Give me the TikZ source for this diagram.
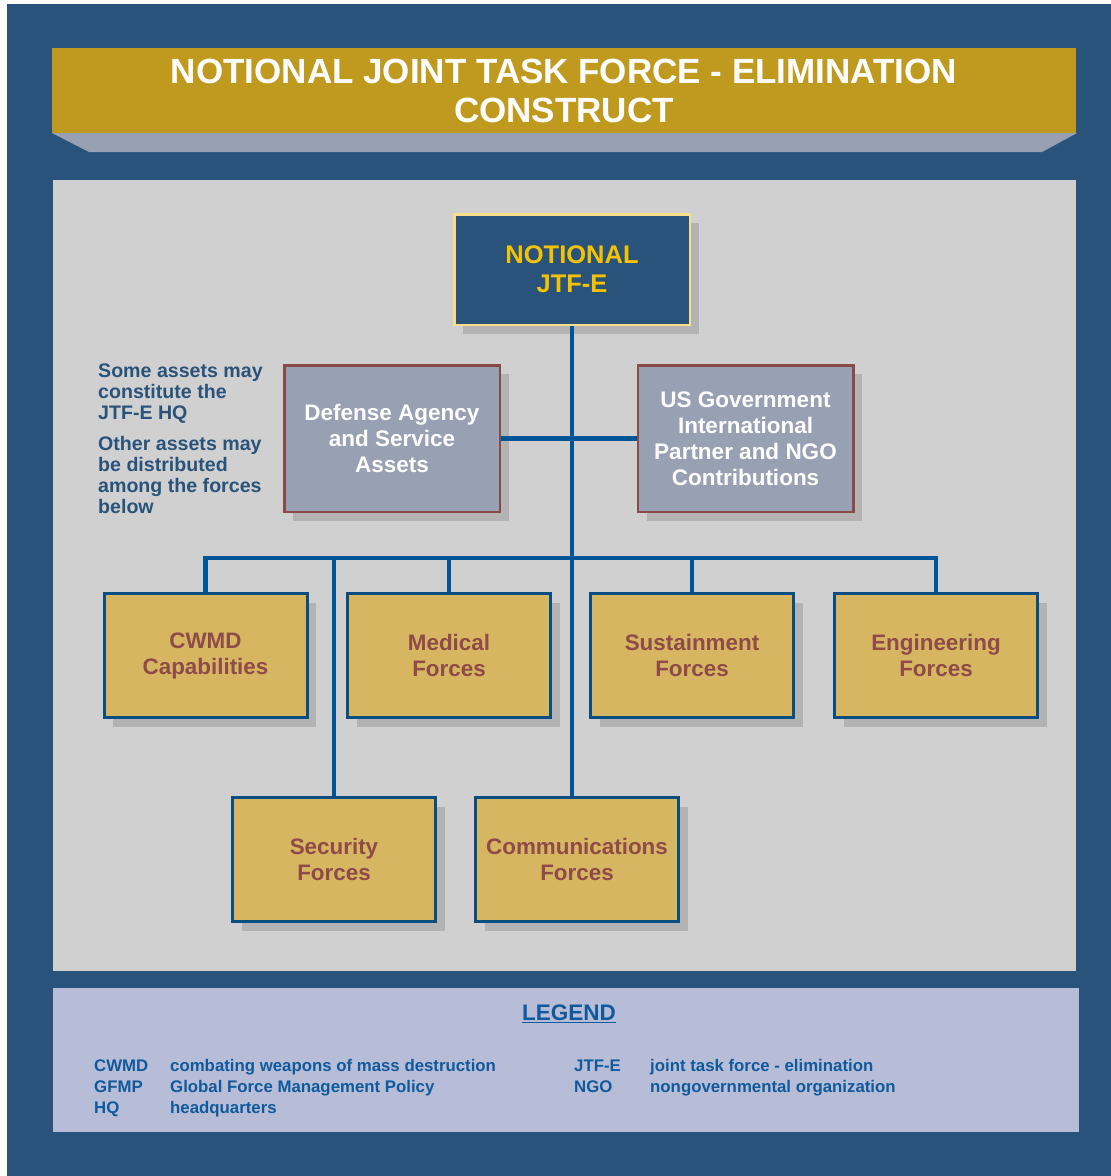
\documentclass[tikz,border=0pt]{standalone}
\usepackage{fontspec}
\setmainfont{Liberation Sans}
\usetikzlibrary{shadows}

\definecolor{framebg}{HTML}{29537A}
\definecolor{titlegold}{HTML}{C09A1F}
\definecolor{titleshade}{HTML}{98A1B4}
\definecolor{panelgrey}{HTML}{D0D0D0}
\definecolor{legendbg}{HTML}{B8BDD7}
\definecolor{hqedge}{HTML}{F7DD8C}
\definecolor{hqtext}{HTML}{F5C200}
\definecolor{assetgrey}{HTML}{98A0B3}
\definecolor{assetedge}{HTML}{8B4A4A}
\definecolor{forcegold}{HTML}{D7B662}
\definecolor{forceedge}{HTML}{0A4D80}
\definecolor{forcetext}{HTML}{8E4B49}
\definecolor{linkblue}{HTML}{005596}
\definecolor{shadowgrey}{HTML}{B3B3B3}
\definecolor{legendblue}{HTML}{0F5A9C}

\tikzset{
  boxshadow/.style={drop shadow={shadow xshift=9pt,shadow yshift=-9pt,opacity=1,fill=shadowgrey}},
  hq/.style={draw=hqedge,line width=2.5pt,fill=framebg,text=hqtext,
    minimum width=235.5pt,minimum height=110.5pt,inner sep=0pt,align=center,
    font=\bfseries\fontsize{25.5pt}{29pt}\selectfont,boxshadow,
    execute at begin node={\rule{0pt}{23.5pt}}},
  asset/.style={draw=assetedge,line width=2.5pt,fill=assetgrey,text=white,
    minimum width=215.5pt,minimum height=146.5pt,inner sep=0pt,align=center,
    font=\bfseries\fontsize{22.5pt}{26pt}\selectfont,boxshadow},
  force/.style={draw=forceedge,line width=3pt,fill=forcegold,text=forcetext,
    minimum width=203pt,minimum height=124pt,inner sep=0pt,align=center,
    font=\bfseries\fontsize{22.4pt}{26pt}\selectfont,boxshadow,
    execute at begin node={\rule{0pt}{20pt}}},
  link/.style={draw=linkblue,line width=4.5pt},
  legtext/.style={text=legendblue,inner sep=0pt,anchor=base west,
    font=\bfseries\fontsize{16.8pt}{21pt}\selectfont},
}

\begin{document}
\begin{tikzpicture}[x=1pt,y=-1pt]
  \useasboundingbox (0,0) rectangle (1111,1176);
  \fill[white] (0,0) rectangle (1111,1176);
  \fill[framebg] (7,4) rectangle (1111,1176);

  % title band
  \fill[titleshade] (52,133) -- (1077,133) -- (1042,152) -- (89,152) -- cycle;
  \fill[titlegold] (52,48) rectangle (1076,133);
  \node[text=white,inner sep=0pt,align=center,font=\bfseries\fontsize{35pt}{39pt}\selectfont]
    (title) at (564,91) {NOTIONAL JOINT TASK FORCE - ELIMINATION\\CONSTRUCT};

  \fill[panelgrey] (53,180) rectangle (1076,971);
  \fill[legendbg] (53,988) rectangle (1079,1132);

  % chart
  \node[hq] (hq) at (572,269.5) {NOTIONAL\\JTF-E};
  \node[asset] (defense) at (392,438.5) {Defense Agency\\and Service\\Assets};
  \node[asset] (usgov) at (745.5,438.5) {US Government\\International\\Partner and NGO\\Contributions};
  \node[force] (cwmd) at (205.5,655.5) {CWMD\\Capabilities};
  \node[force] (med) at (449,655.5) {Medical\\Forces};
  \node[force] (sust) at (692,655.5) {Sustainment\\Forces};
  \node[force] (engr) at (936,655.5) {Engineering\\Forces};
  \node[force] (sec) at (334,859.5) {Security\\Forces};
  \node[force] (comms) at (577,859.5) {Communications\\Forces};

  \node[text=framebg,inner sep=0pt,anchor=north west,align=left,
    font=\bfseries\fontsize{19.6pt}{21pt}\selectfont] (note) at (98,364)
    {Some assets may\\constitute the\\JTF-E HQ\\[10pt]Other assets may\\be distributed\\among the forces\\below};

  \coordinate (bus) at (572,558);
  \draw[link] (hq.south) -- (hq.south |- comms.north);
  \draw[link] (defense.east) -- (usgov.west);
  \draw[link] (cwmd.north) |- (bus) -| (engr.north);
  \draw[link] (med.north) -- (med.north |- bus);
  \draw[link] (sust.north) -- (sust.north |- bus);
  \draw[link] (sec.north) -- (sec.north |- bus);

  % legend
  \node[text=legendblue,inner sep=0pt,anchor=base,font=\bfseries\fontsize{22.5pt}{26pt}\selectfont]
    (leghead) at (569,1020) {LEGEND};
  \draw[legendblue,line width=1.8pt] ([yshift=-2.5pt]leghead.base west) -- ([yshift=-2.5pt]leghead.base east);

  \node[legtext] (abcwmd) at (94,1071) {CWMD};
  \node[legtext] (decwmd) at (170,1071) {combating weapons of mass destruction};
  \node[legtext] (abgfmp) at (94,1092) {GFMP};
  \node[legtext] (degfmp) at (170,1092) {Global Force Management Policy};
  \node[legtext] (abhq) at (94,1113) {HQ};
  \node[legtext] (dehq) at (170,1113) {headquarters};
  \node[legtext] (abjtfe) at (574,1071) {JTF-E};
  \node[legtext] (dejtfe) at (650,1071) {joint task force - elimination};
  \node[legtext] (abngo) at (574,1092) {NGO};
  \node[legtext] (dengo) at (650,1092) {nongovernmental organization};
\end{tikzpicture}
\end{document}
